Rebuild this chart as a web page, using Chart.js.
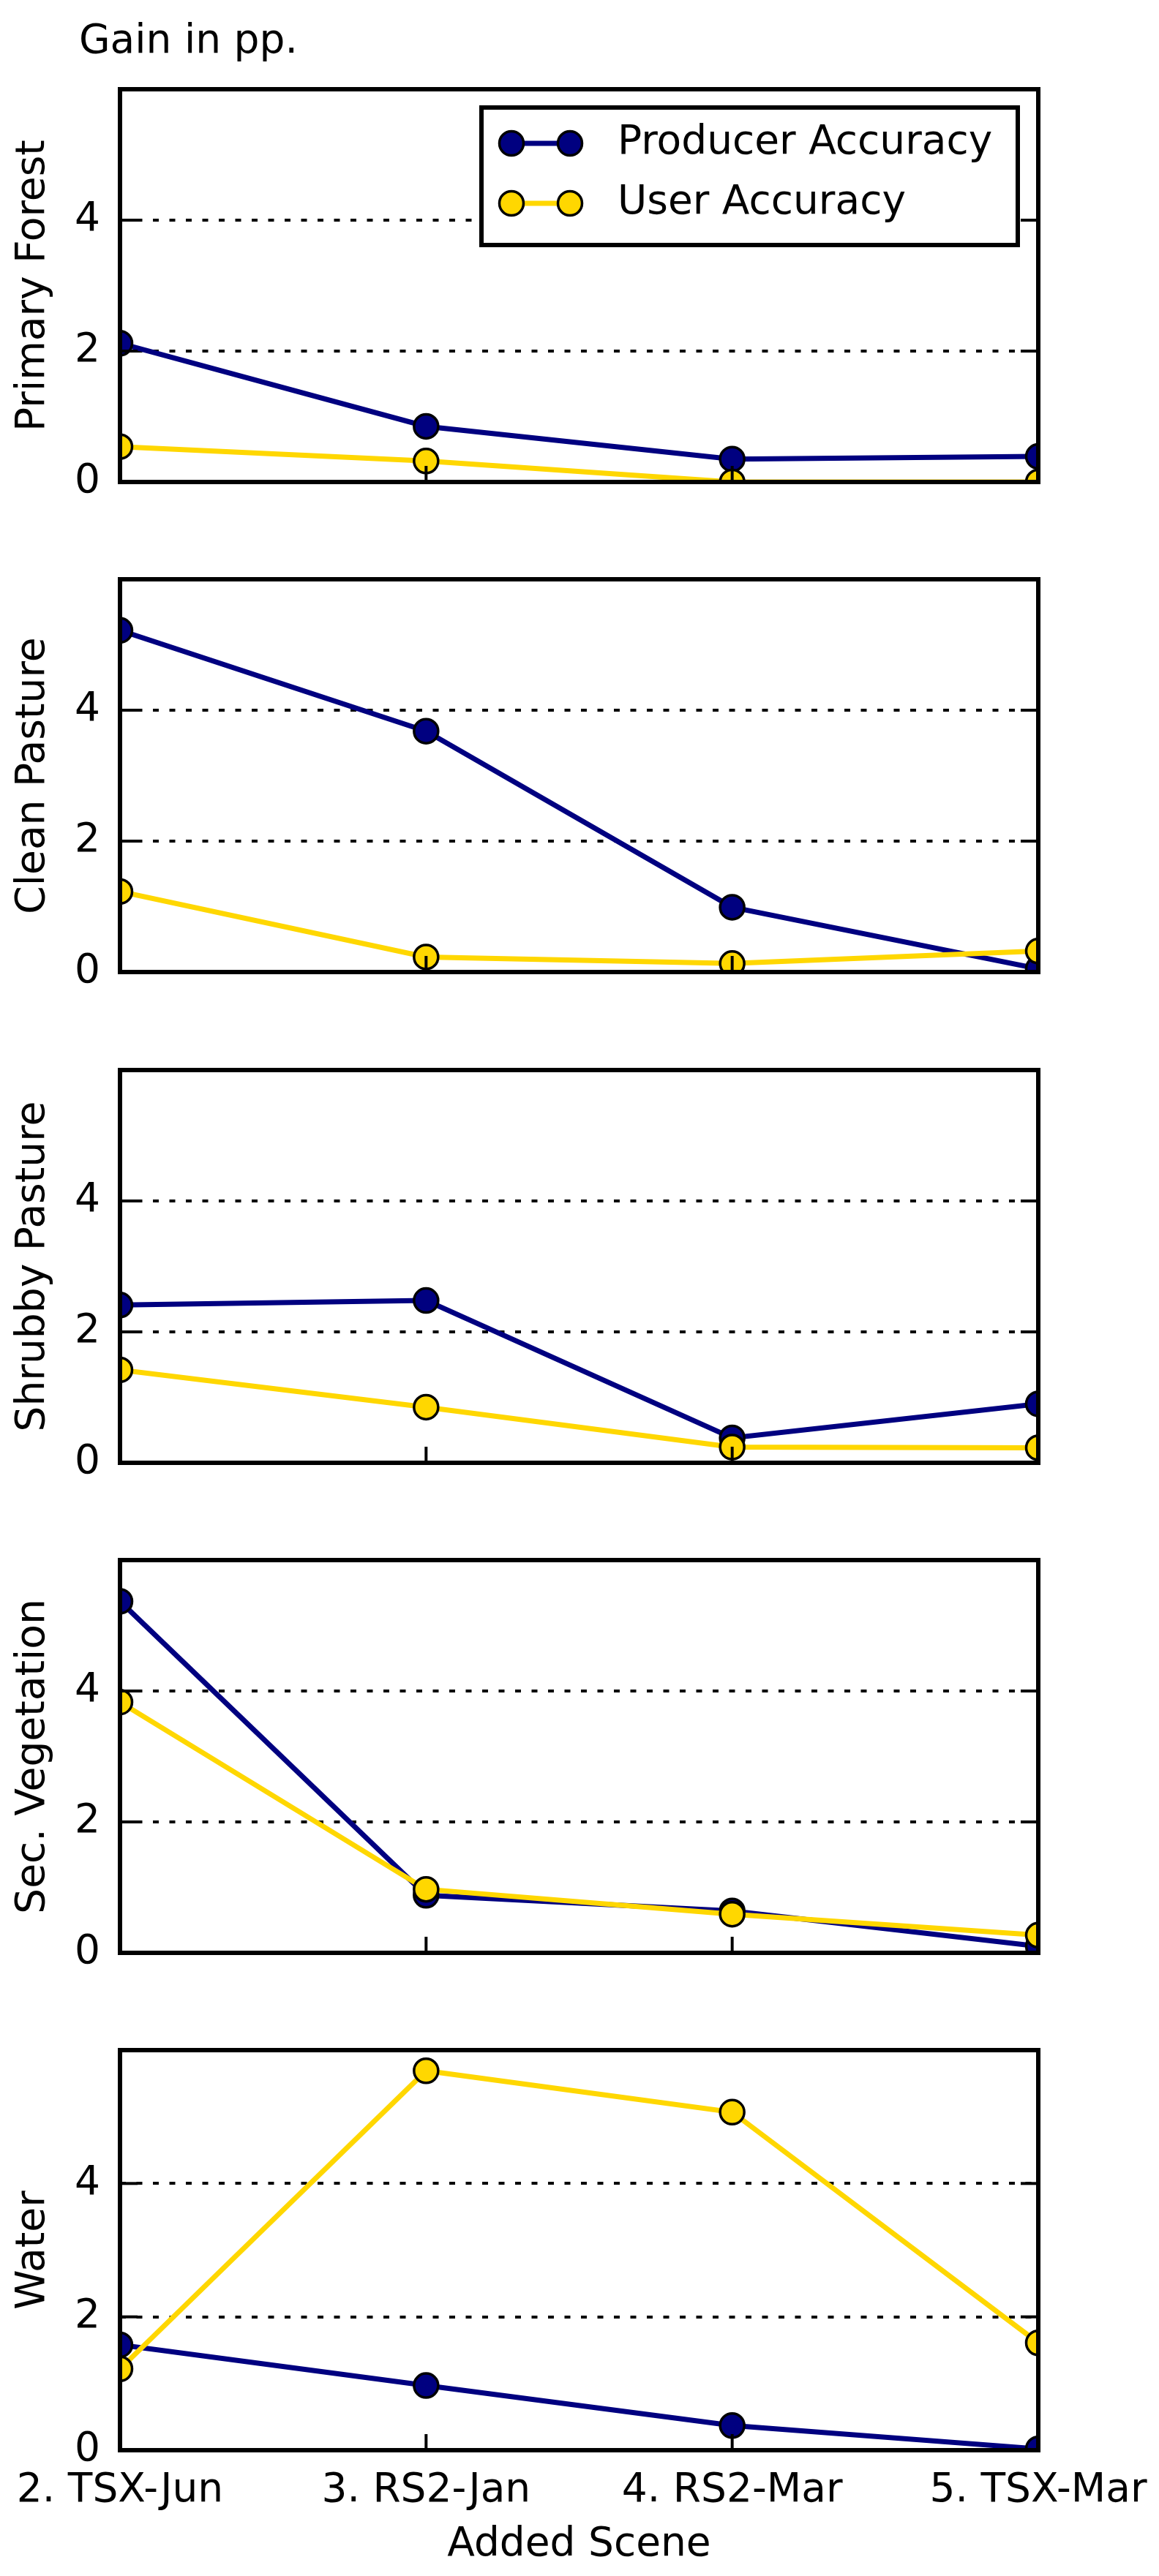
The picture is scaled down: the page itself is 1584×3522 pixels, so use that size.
<!DOCTYPE html>
<html>
<head>
<meta charset="utf-8">
<script src="https://cdn.jsdelivr.net/npm/chart.js@4.4.1/dist/chart.umd.min.js"></script>
<style>
  html, body { margin: 0; padding: 0; background: #fff; }
  #page { position: relative; width: 1584px; height: 3522px; background: #fff; font-family: "DejaVu Sans", sans-serif; }
  #page canvas { position: absolute; left: 0; }
  #gainTitle { position: absolute; left: 108px; top: 26px; font-size: 55px; line-height: 55px; color: #000; white-space: nowrap; }
</style>
</head>
<body>
<div id="page">
  <div id="gainTitle">Gain in pp.</div>
</div>
<script>
const scenes = ["2. TSX-Jun", "3. RS2-Jan", "4. RS2-Mar", "5. TSX-Mar"];
const classNames = ["Primary Forest", "Clean Pasture", "Shrubby Pasture", "Sec. Vegetation", "Water"];

const producerPrimaryForest = [2.12, 0.85, 0.35, 0.39];
const producerCleanPasture = [5.22, 3.68, 0.99, 0.05];
const producerShrubbyPasture = [2.41, 2.48, 0.38, 0.90];
const producerSecVegetation = [5.37, 0.88, 0.64, 0.10];
const producerWater = [1.58, 0.97, 0.37, 0.02];

const userPrimaryForest = [0.54, 0.32, 0.0, 0.0];
const userCleanPasture = [1.23, 0.23, 0.13, 0.32];
const userShrubbyPasture = [1.42, 0.85, 0.24, 0.23];
const userSecVegetation = [3.83, 0.97, 0.59, 0.27];
const userWater = [1.22, 5.69, 5.07, 1.61];

const producerAccuracy = [producerPrimaryForest, producerCleanPasture, producerShrubbyPasture, producerSecVegetation, producerWater];
const userAccuracy = [userPrimaryForest, userCleanPasture, userShrubbyPasture, userSecVegetation, userWater];

const yTickValues = [0, 2, 4];
const yMax = 6;

const producerColor = "#000080";
const userColor = "#FFD700";
const fontFamily = "'DejaVu Sans', sans-serif";
const baseFont = { family: fontFamily, size: 55, lineHeight: 1.2 };

const firstPanelTop = 112;
const panelPitch = 670.25;
const plotHeight = 557;
const plotLeft = 164;
const plotRightMargin = 165;
const padTop = 10;
const xAxisHeight = 167;

// inward ticks + box frame like the classic matplotlib style
const framePlugin = {
  id: "frame",
  afterDatasetsDraw(chart) {
    const { ctx, chartArea } = chart;
    const { left, right, top, bottom } = chartArea;
    const yScale = chart.scales.y;
    const xScale = chart.scales.x;
    ctx.save();
    ctx.strokeStyle = "#000";
    ctx.lineWidth = 4;
    yTickValues.forEach((value) => {
      const py = yScale.getPixelForValue(value);
      drawLine(ctx, left, py, left + 24, py);
      drawLine(ctx, right - 24, py, right, py);
    });
    scenes.forEach((_, index) => {
      const px = xScale.getPixelForValue(index);
      drawLine(ctx, px, bottom, px, bottom - 22);
    });
    ctx.lineWidth = 6;
    ctx.strokeRect(left, top, right - left, bottom - top);
    ctx.restore();
  }
};

const boxLegendPlugin = {
  id: "boxLegend",
  afterDraw(chart) {
    const { ctx, chartArea } = chart;
    const boxLeft = chartArea.right - 28 - 733;
    const boxTop = chartArea.top + 25;
    ctx.save();
    ctx.fillStyle = "#fff";
    ctx.fillRect(boxLeft, boxTop, 733, 188);
    ctx.strokeStyle = "#000";
    ctx.lineWidth = 6;
    ctx.strokeRect(boxLeft, boxTop, 733, 188);

    chart.data.datasets.forEach((dataset, index) => {
      const rowY = boxTop + 49 + index * 82;
      const x1 = boxLeft + 41;
      const x2 = boxLeft + 121;
      ctx.strokeStyle = dataset.borderColor;
      ctx.lineWidth = dataset.borderWidth;
      drawLine(ctx, x1, rowY, x2, rowY);
      [x1, x2].forEach((x) => {
        ctx.beginPath();
        ctx.arc(x, rowY, dataset.pointRadius, 0, Math.PI * 2);
        ctx.fillStyle = dataset.pointBackgroundColor;
        ctx.fill();
        ctx.lineWidth = dataset.pointBorderWidth;
        ctx.strokeStyle = "#000";
        ctx.stroke();
      });
      ctx.fillStyle = "#000";
      ctx.font = `55px ${fontFamily}`;
      ctx.textAlign = "left";
      ctx.textBaseline = "middle";
      ctx.fillText(dataset.label, boxLeft + 186, rowY);
    });
    ctx.restore();
  }
};

function drawLine(ctx, x1, y1, x2, y2) {
  ctx.beginPath();
  ctx.moveTo(x1, y1);
  ctx.lineTo(x2, y2);
  ctx.stroke();
}

function makeDataset(label, data, color, order) {
  return {
    label,
    data,
    borderColor: color,
    backgroundColor: color,
    borderWidth: 7,
    pointBackgroundColor: color,
    pointBorderColor: "#000",
    pointBorderWidth: 3.5,
    pointRadius: 16.5,
    pointHoverRadius: 16.5,
    tension: 0,
    clip: 0,
    order
  };
}

function zeroPadding(scale) {
  scale.paddingTop = 0;
  scale.paddingBottom = 0;
  scale.paddingLeft = 0;
  scale.paddingRight = 0;
}

function drawPanel(index) {
  const isLast = index === classNames.length - 1;
  const panelTop = firstPanelTop + index * panelPitch;
  const bottomExtra = isLast ? xAxisHeight : 10;

  const canvas = document.createElement("canvas");
  canvas.width = 1584;
  canvas.height = Math.round(padTop + plotHeight + bottomExtra);
  canvas.style.top = `${Math.round(panelTop - padTop)}px`;
  document.getElementById("page").appendChild(canvas);

  const plugins = [framePlugin];
  if (index === 0) {
    plugins.push(boxLegendPlugin);
  }

  return new Chart(canvas.getContext("2d"), {
    type: "line",
    data: {
      labels: scenes,
      datasets: [
        makeDataset("Producer Accuracy", producerAccuracy[index], producerColor, 1),
        makeDataset("User Accuracy", userAccuracy[index], userColor, 0)
      ]
    },
    options: {
      responsive: false,
      animation: false,
      devicePixelRatio: 1,
      layout: {
        padding: { left: 0, right: plotRightMargin, top: padTop, bottom: isLast ? 0 : 10 }
      },
      plugins: {
        legend: { display: false },
        tooltip: { enabled: false }
      },
      scales: {
        x: {
          type: "category",
          offset: false,
          grid: { display: false },
          border: { display: false },
          ticks: {
            display: isLast,
            color: "#000",
            font: baseFont,
            padding: 15,
            maxRotation: 0,
            autoSkip: false
          },
          title: {
            display: isLast,
            text: "Added Scene",
            color: "#000",
            font: baseFont,
            padding: { top: 0, bottom: 4 }
          },
          afterFit: (scale) => {
            scale.height = isLast ? xAxisHeight : 0;
            zeroPadding(scale);
          }
        },
        y: {
          min: 0,
          max: yMax,
          afterBuildTicks: (scale) => {
            scale.ticks = yTickValues.map((value) => ({ value }));
          },
          grid: {
            drawTicks: false,
            lineWidth: 4,
            color: (context) => (context.tick && context.tick.value === 0 ? "rgba(0,0,0,0)" : "#000")
          },
          border: { display: false, dash: [8, 14.5] },
          ticks: {
            color: "#000",
            font: baseFont,
            padding: 27
          },
          title: {
            display: true,
            text: classNames[index],
            color: "#000",
            font: baseFont,
            padding: { top: 13, bottom: 0 }
          },
          afterFit: (scale) => {
            scale.width = plotLeft;
            zeroPadding(scale);
          }
        }
      }
    },
    plugins
  });
}

classNames.forEach((_, index) => drawPanel(index));
</script>
</body>
</html>
